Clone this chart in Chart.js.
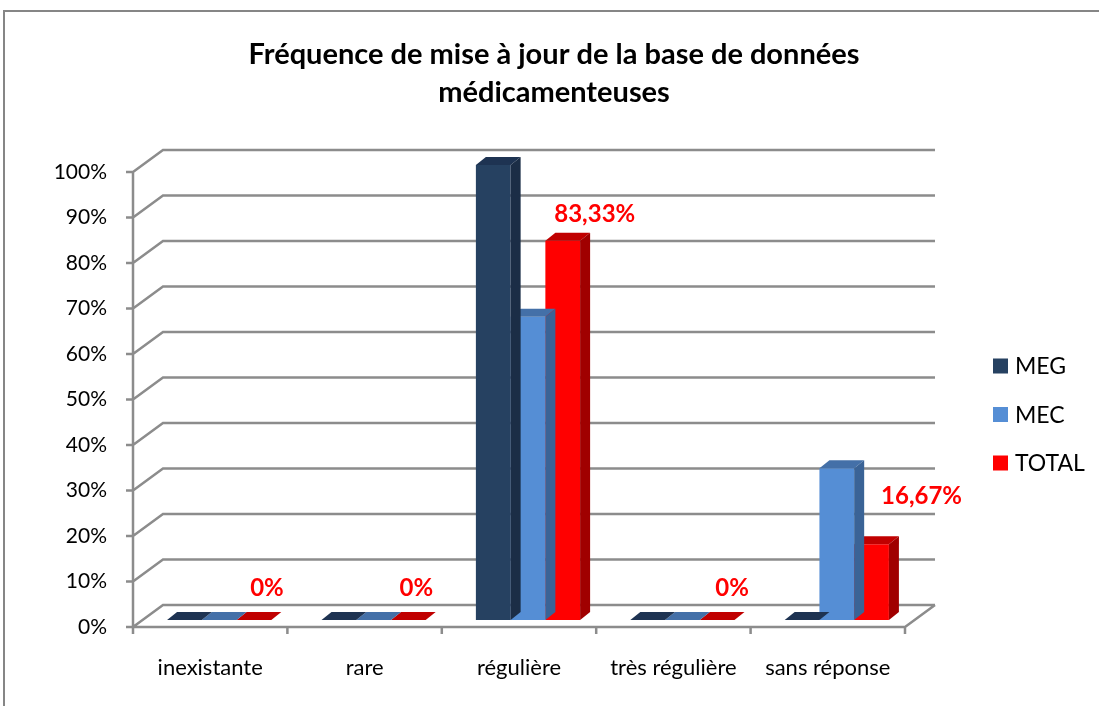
<!DOCTYPE html>
<html>
<head>
<meta charset="utf-8">
<script src="https://cdn.jsdelivr.net/npm/chart.js@4"></script>
<style>
  body { margin: 0; background: #fff; }
  #wrap { width: 1099px; height: 706px; }
</style>
</head>
<body>
<div id="wrap"><canvas id="chart" width="1099" height="706"></canvas></div>
<script>
// donnees du graphique
const categories = ['inexistante', 'rare', 'régulière', 'très régulière', 'sans réponse'];
const megValues = [0, 0, 100, 0, 0];
const mecValues = [0, 0, 66.67, 0, 33.33];
const totalValues = [0, 0, 83.33, 0, 16.67];
const totalLabels = ['0%', '0%', '83,33%', '0%', '16,67%'];
const yTicks = [0, 10, 20, 30, 40, 50, 60, 70, 80, 90, 100];
const titleLines = ['Fréquence de mise à jour de la base de données', 'médicamenteuses'];

// style 3D (pas des donnees)
const depth = { x: 30, y: -22 };     // profondeur du mur de fond
const barShift = { x: 9, y: -7 };    // plan des barres
const barDepth = { x: 10, y: -8 };   // epaisseur des barres
const gridColor = '#8c8c8c';
const labelDx = [13, 8, 32, 15, 50];
const labelDy = [32, 32, 27, 32, 48];

const faces = [
    { front: '#264161', top: '#1e3352', side: '#1b2d46' },
    { front: '#558ed5', top: '#4470a8', side: '#3a6396' },
    { front: '#ff0000', top: '#c00000', side: '#a00000' }
];

const FONT = 'Lato, "Open Sans", sans-serif';

// cadre, titre, grille et sol en perspective
const gridPlugin = {
    id: 'grid3d',
    beforeDraw(chart) {
        const ctx = chart.ctx;
        const area = chart.chartArea;
        const y = chart.scales.y;
        ctx.save();
        ctx.strokeStyle = '#868686';
        ctx.lineWidth = 2;
        ctx.strokeRect(4, 11, 1200, 800);

        // titre
        ctx.fillStyle = '#000';
        ctx.font = 'bold 29px ' + FONT;
        ctx.textAlign = 'center';
        ctx.textBaseline = 'middle';
        titleLines.forEach((t, i) => ctx.fillText(t, 554, 55 + i * 38));

        ctx.strokeStyle = gridColor;
        ctx.lineWidth = 2.5;
        ctx.beginPath();
        yTicks.forEach(v => {
            const py = y.getPixelForValue(v);
            ctx.moveTo(area.left - 7, py);
            ctx.lineTo(area.left, py);
            ctx.lineTo(area.left + depth.x, py + depth.y);
            ctx.lineTo(area.right + depth.x, py + depth.y);
        });
        // axe vertical avant
        ctx.moveTo(area.left, y.getPixelForValue(0));
        ctx.lineTo(area.left, y.getPixelForValue(100));
        // bord avant et droit du sol
        const y0 = y.getPixelForValue(0);
        ctx.moveTo(area.left, y0);
        ctx.lineTo(area.right, y0);
        ctx.lineTo(area.right + depth.x, y0 + depth.y);
        // graduations de l'axe x
        const step = (area.right - area.left) / categories.length;
        for (let i = 0; i <= categories.length; i++) {
            const px = area.left + step * i;
            ctx.moveTo(px, y0);
            ctx.lineTo(px, y0 + 7);
        }
        ctx.stroke();
        ctx.restore();
    },
    beforeDatasetsDraw(chart) {
        chart.ctx.save();
        chart.ctx.translate(barShift.x, barShift.y);
    },
    afterDatasetDraw(chart, args) {
        const ctx = chart.ctx;
        const f = faces[args.index];
        args.meta.data.forEach(bar => {
            const left = bar.x - bar.width / 2;
            const right = bar.x + bar.width / 2;
            const top = bar.y;
            const base = bar.base;
            // face superieure
            ctx.fillStyle = f.top;
            ctx.beginPath();
            ctx.moveTo(left, top);
            ctx.lineTo(right, top);
            ctx.lineTo(right + barDepth.x, top + barDepth.y);
            ctx.lineTo(left + barDepth.x, top + barDepth.y);
            ctx.closePath();
            ctx.fill();
            // face laterale
            if (base - top > 0.5) {
                ctx.fillStyle = f.side;
                ctx.beginPath();
                ctx.moveTo(right, top);
                ctx.lineTo(right + barDepth.x, top + barDepth.y);
                ctx.lineTo(right + barDepth.x, base + barDepth.y);
                ctx.lineTo(right, base);
                ctx.closePath();
                ctx.fill();
            }
        });
    },
    afterDatasetsDraw(chart) {
        const ctx = chart.ctx;
        ctx.restore();
        // etiquettes de la serie TOTAL
        const meta = chart.getDatasetMeta(2);
        ctx.save();
        ctx.fillStyle = '#ff0000';
        ctx.font = 'bold 24px ' + FONT;
        ctx.textAlign = 'center';
        ctx.textBaseline = 'middle';
        meta.data.forEach((bar, i) => {
            ctx.fillText(totalLabels[i], bar.x + barShift.x + labelDx[i], bar.y + barShift.y - labelDy[i]);
        });
        ctx.restore();
    },
    afterDraw(chart) {
        // legende
        const ctx = chart.ctx;
        const names = chart.data.datasets.map(d => d.label);
        ctx.save();
        ctx.font = '23px ' + FONT;
        ctx.textBaseline = 'middle';
        ctx.textAlign = 'left';
        names.forEach((n, i) => {
            const cy = 366 + i * 48.5;
            ctx.fillStyle = faces[i].front;
            ctx.fillRect(993, cy - 7.5, 15, 15);
            ctx.fillStyle = '#000';
            ctx.fillText(n, 1015, cy + 1);
        });
        ctx.restore();
    }
};

new Chart(document.getElementById('chart'), {
    type: 'bar',
    data: {
        labels: categories,
        datasets: [
            { label: 'MEG', data: megValues, backgroundColor: faces[0].front },
            { label: 'MEC', data: mecValues, backgroundColor: faces[1].front },
            { label: 'TOTAL', data: totalValues, backgroundColor: faces[2].front }
        ]
    },
    options: {
        responsive: false,
        animation: false,
        devicePixelRatio: 1,
        layout: { padding: { left: 0, right: 194, top: 172, bottom: 0 } },
        datasets: { bar: { barPercentage: 1, categoryPercentage: 0.675, clip: false } },
        plugins: {
            legend: { display: false },
            tooltip: { enabled: false },
            title: { display: false }
        },
        scales: {
            x: {
                grid: { display: false, drawTicks: false },
                border: { display: false },
                ticks: { color: '#000', font: { family: FONT, size: 22 }, padding: 28, maxRotation: 0 },
                afterFit(scale) { scale.height = 79; }
            },
            y: {
                min: 0,
                max: 100,
                grid: { display: false, drawTicks: false },
                border: { display: false },
                ticks: {
                    stepSize: 10,
                    color: '#000',
                    font: { family: FONT, size: 21 },
                    padding: 26,
                    callback: v => v + '%'
                },
                afterFit(scale) { scale.width = 133; }
            }
        }
    },
    plugins: [gridPlugin]
});
</script>
</body>
</html>
